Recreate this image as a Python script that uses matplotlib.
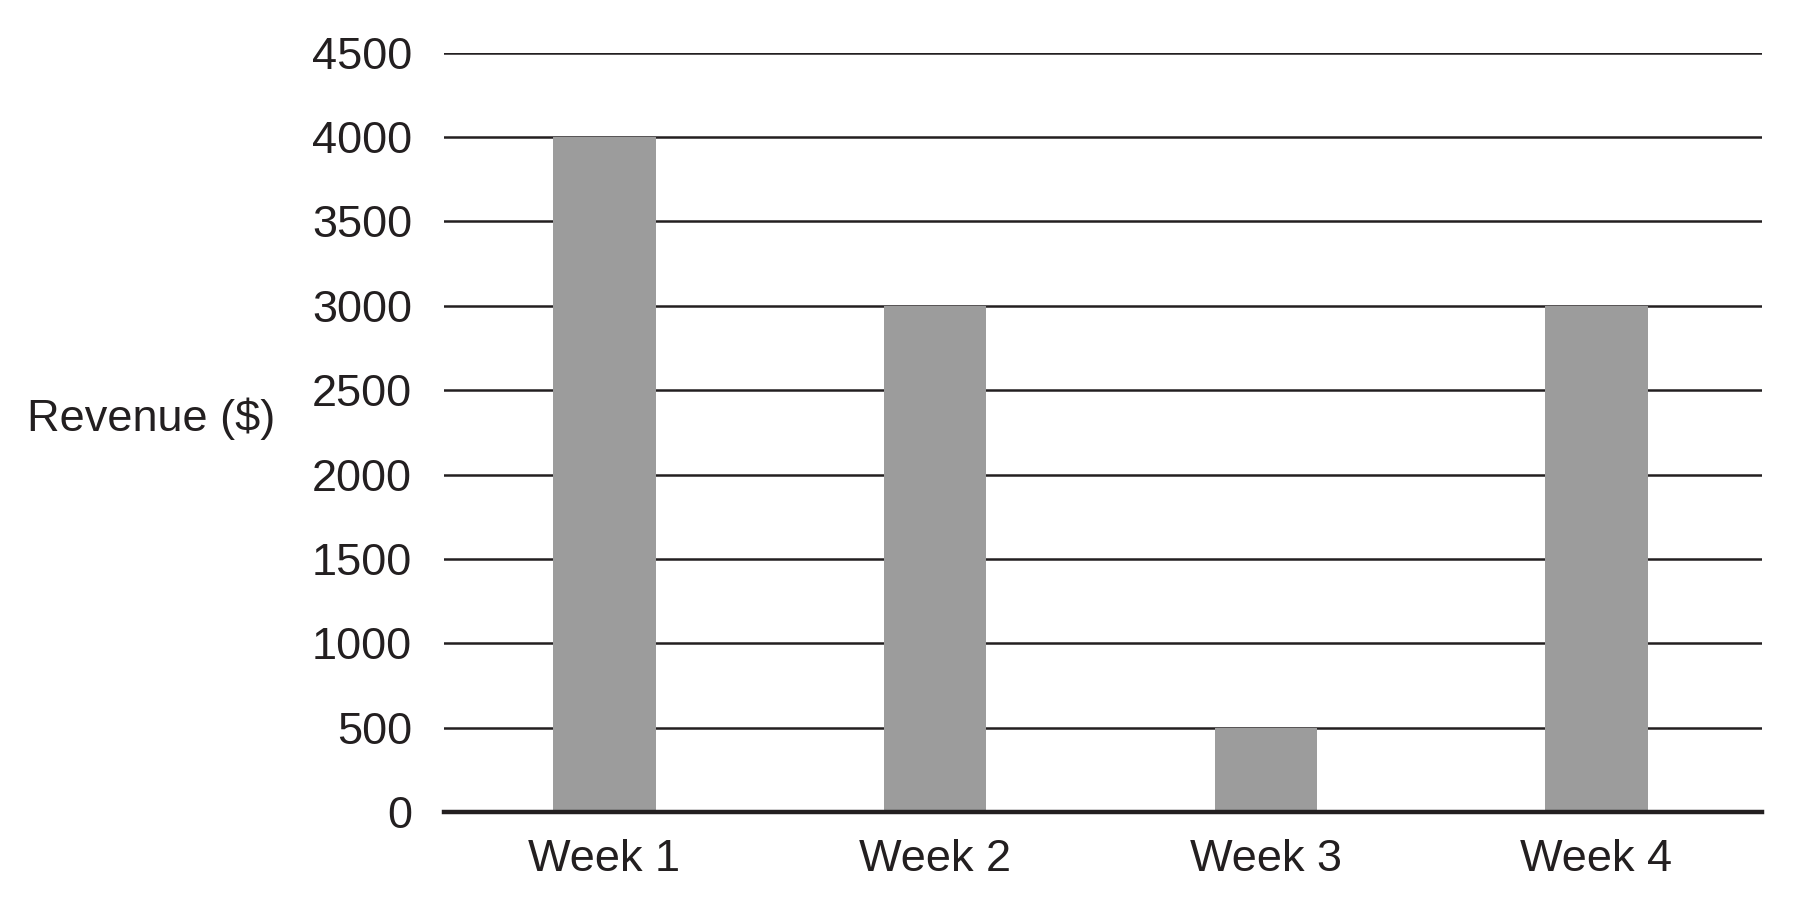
import matplotlib.pyplot as plt
import numpy as np

# chart data
weeks = ['Week 1', 'Week 2', 'Week 3', 'Week 4']
revenue = [4000, 3000, 500, 3000]
y_ticks = [0, 500, 1000, 1500, 2000, 2500, 3000, 3500, 4000, 4500]

plt.rcParams['font.family'] = ['Liberation Sans', 'DejaVu Sans']
text_color = '#231f20'

fig = plt.figure(figsize=(17.96, 9), dpi=100)
ax = fig.add_axes([0.2472, 0.0978, 0.981 - 0.2472, 0.9414 - 0.0978])

x = np.arange(len(weeks))
ax.bar(x, revenue, width=0.31, color='#9c9c9c', zorder=3)

# horizontal gridlines, bars sit on top of them
ax.set_ylim(0, 4500)
ax.set_yticks(y_ticks)
ax.yaxis.grid(True, color='#231f20', linewidth=1.8, zorder=1)
ax.set_axisbelow(True)

ax.set_xlim(-0.485, 3.5)
ax.set_xticks(x)
ax.set_xticklabels(weeks)

for side in ['top', 'right', 'left']:
    ax.spines[side].set_visible(False)
ax.spines['bottom'].set_linewidth(3.2)
ax.spines['bottom'].set_color('#231f20')
ax.spines['bottom'].set_zorder(4)

ax.tick_params(axis='both', length=0, labelsize=32.5, colors=text_color)
ax.tick_params(axis='y', pad=23)
ax.tick_params(axis='x', pad=19.5)

ax.set_ylabel('Revenue ($)', rotation=0, fontsize=32.5, color=text_color,
              ha='center', va='center')
ax.yaxis.set_label_coords(-0.222, 0.518)

fig.savefig('out.png', dpi=100)
